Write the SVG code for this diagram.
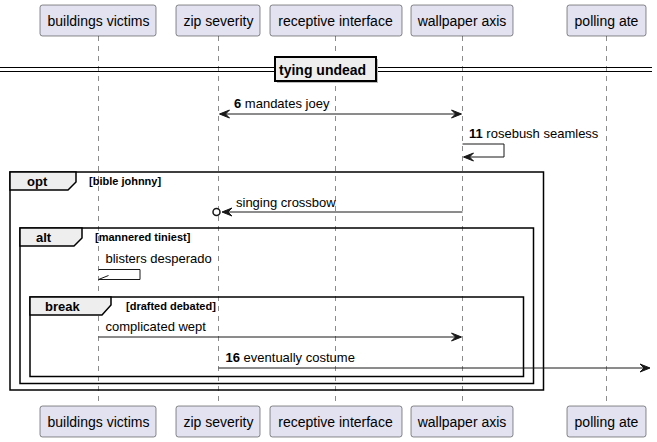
<svg xmlns="http://www.w3.org/2000/svg" width="657" height="442" viewBox="0 0 657 442">
<style>
text{font-family:"Liberation Sans",Arial,sans-serif;fill:#000}
.p rect{fill:#E2E2F0;stroke:#181818;stroke-width:0.5}
.p text{font-size:14px;text-anchor:middle}
.life{stroke:#181818;stroke-width:0.5;stroke-dasharray:5,5;fill:none}
.msg{stroke:#181818;stroke-width:1;fill:none}
.ah{fill:#181818;stroke:#181818;stroke-width:1}
.ml{font-size:13px}
.num{font-weight:bold}
.fr{fill:none;stroke:#000;stroke-width:1.5}
.tab{fill:#EEEEEE;stroke:#000;stroke-width:1.5}
.ft{font-size:13px;font-weight:bold}
.gd{font-size:11px;font-weight:bold}
</style>
<rect width="657" height="442" fill="#fff"/>
<g id="lifelines">
<line class="life" x1="98.5" y1="36" x2="98.5" y2="406"/>
<line class="life" x1="218.5" y1="36" x2="218.5" y2="406"/>
<line class="life" x1="335.5" y1="36" x2="335.5" y2="406"/>
<line class="life" x1="462.5" y1="36" x2="462.5" y2="406"/>
<line class="life" x1="606.5" y1="36" x2="606.5" y2="406"/>
</g>
<g id="p-buildings" class="p">
<rect x="40" y="5" width="116" height="31" rx="2.5"/><text x="98.5" y="25.5">buildings victims</text>
<rect x="40" y="406" width="116" height="31" rx="2.5"/><text x="98.5" y="426.5">buildings victims</text>
</g>
<g id="p-zip" class="p">
<rect x="176" y="5" width="84" height="31" rx="2.5"/><text x="218.5" y="25.5">zip severity</text>
<rect x="176" y="406" width="84" height="31" rx="2.5"/><text x="218.5" y="426.5">zip severity</text>
</g>
<g id="p-receptive" class="p">
<rect x="270" y="5" width="132" height="31" rx="2.5"/><text x="335.5" y="25.5">receptive interface</text>
<rect x="270" y="406" width="132" height="31" rx="2.5"/><text x="335.5" y="426.5">receptive interface</text>
</g>
<g id="p-wallpaper" class="p">
<rect x="411" y="5" width="102" height="31" rx="2.5"/><text x="462" y="25.5">wallpaper axis</text>
<rect x="411" y="406" width="102" height="31" rx="2.5"/><text x="462" y="426.5">wallpaper axis</text>
</g>
<g id="p-polling" class="p">
<rect x="567" y="5" width="79" height="31" rx="2.5"/><text x="606.5" y="25.5">polling ate</text>
<rect x="567" y="406" width="79" height="31" rx="2.5"/><text x="606.5" y="426.5">polling ate</text>
</g>
<g id="divider">
<line x1="0" y1="67.5" x2="652" y2="67.5" stroke="#000" stroke-width="1"/>
<line x1="0" y1="71.5" x2="652" y2="71.5" stroke="#000" stroke-width="1"/>
<rect x="277" y="59" width="101" height="24" fill="#bbb"/>
<rect x="275" y="57" width="101" height="24" fill="#EEEEEE" stroke="#000" stroke-width="2"/>
<text x="279" y="75" class="ft" style="font-size:14px">tying undead</text>
</g>
<g id="frame-opt">
<rect class="fr" x="10" y="172" width="533.5" height="218"/>
<path class="tab" d="M10,172 H76 V182 L68,190 H10 Z"/>
<text x="27" y="186" class="ft">opt</text>
<text x="89" y="185" class="gd">[bible johnny]</text>
</g>
<g id="frame-alt">
<rect class="fr" x="20" y="228" width="513.5" height="155.5"/>
<path class="tab" d="M20,228 H82 V238 L74,246 H20 Z"/>
<text x="36" y="242" class="ft">alt</text>
<text x="95" y="241" class="gd">[mannered tiniest]</text>
</g>
<g id="frame-break">
<rect class="fr" x="30" y="297" width="493.5" height="79.5"/>
<path class="tab" d="M30,297 H111 V305 L102,315 H30 Z"/>
<text x="45" y="311" class="ft">break</text>
<text x="126" y="310" class="gd">[drafted debated]</text>
</g>
<g id="connectors">
<line class="msg" x1="220" y1="114" x2="461" y2="114"/>
<polygon class="ah" points="219.5,114 229.5,110 225.5,114 229.5,118"/>
<polygon class="ah" points="461.5,114 451.5,110 455.5,114 451.5,118"/>
<text x="234" y="108" class="ml"><tspan class="num">6</tspan> mandates joey</text>

<polyline class="msg" points="462.5,144 504,144 504,157 464,157"/>
<polygon class="ah" points="463.5,157 473.5,153 469.5,157 473.5,161"/>
<text x="469" y="138" class="ml"><tspan class="num">11</tspan> rosebush seamless</text>

<line class="msg" x1="224" y1="212" x2="462.5" y2="212"/>
<polygon class="ah" points="222,212 232,208 228,212 232,216"/>
<circle cx="216.5" cy="212" r="3.5" fill="#fff" stroke="#181818" stroke-width="1.5"/>
<text x="236" y="207" class="ml">singing crossbow</text>

<polyline class="msg" points="98.5,269.5 140,269.5 140,279.5 98.5,279.5"/>
<line class="msg" x1="98.5" y1="279.5" x2="108.5" y2="275.5"/>
<text x="105.5" y="263" class="ml">blisters desperado</text>

<line class="msg" x1="98.5" y1="337" x2="461" y2="337"/>
<polygon class="ah" points="461.5,337 451.5,333 455.5,337 451.5,341"/>
<text x="105.5" y="331" class="ml">complicated wept</text>

<line class="msg" x1="218.5" y1="368" x2="649" y2="368"/>
<polygon class="ah" points="650,368 640,364 644,368 640,372"/>
<text x="225.5" y="362" class="ml"><tspan class="num">16</tspan> eventually costume</text>
</g>
</svg>
